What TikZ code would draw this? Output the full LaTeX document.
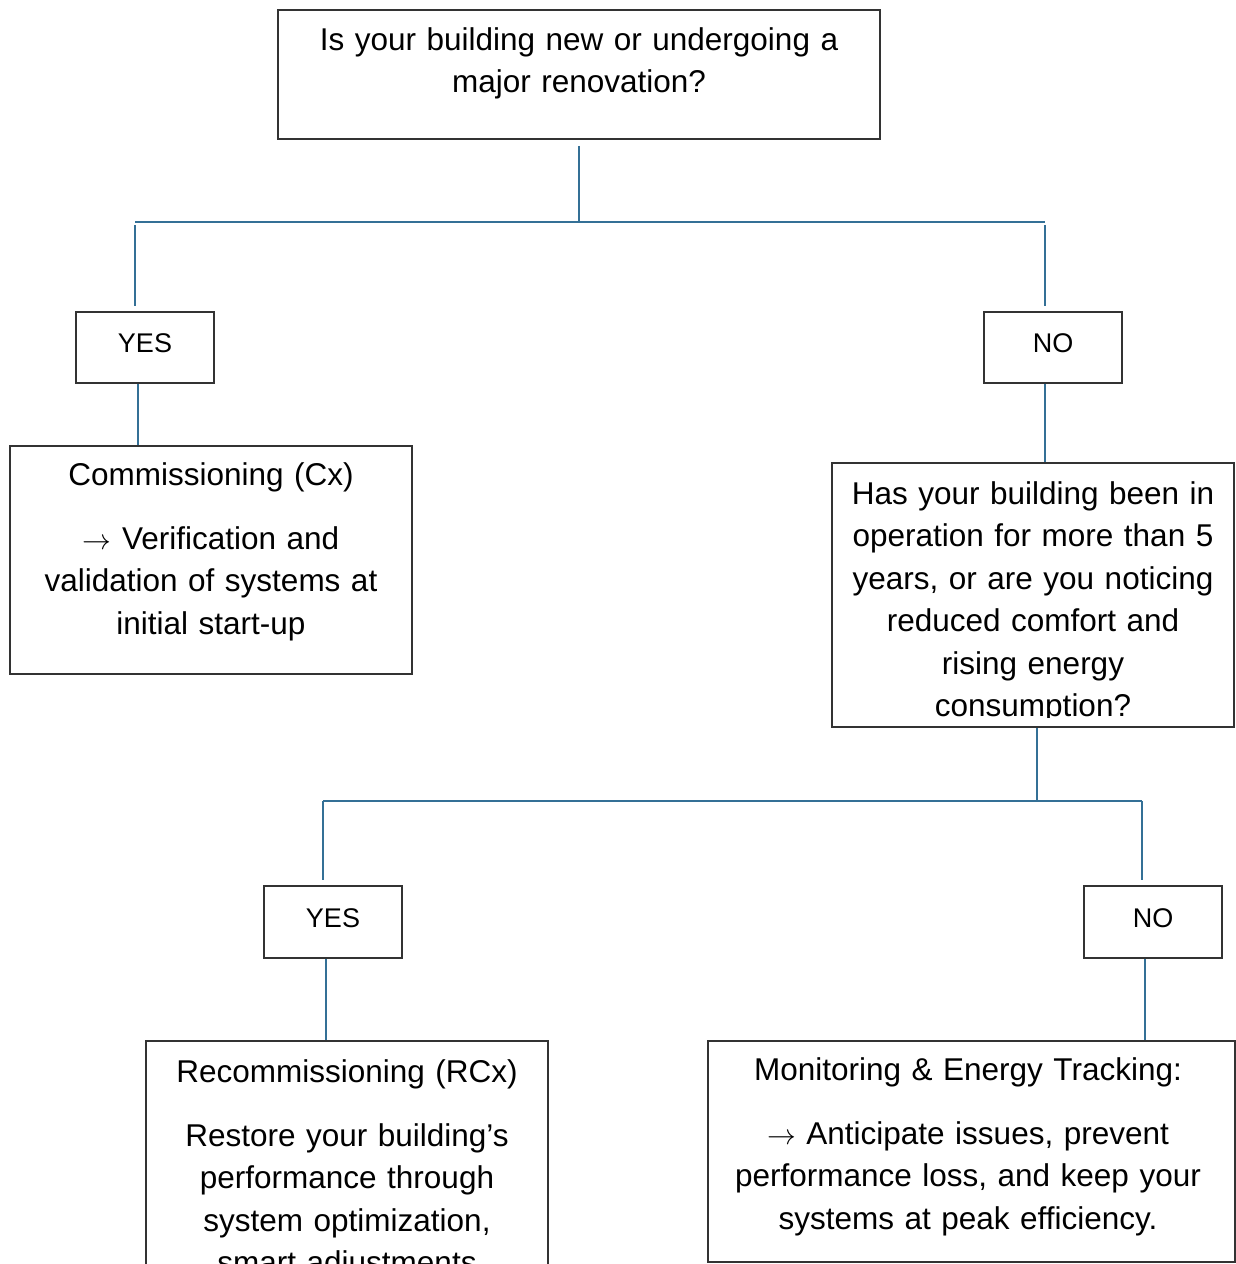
\documentclass[tikz,border=0pt]{standalone}
\usepackage{fontspec}
\setmainfont{Liberation Sans}
\usetikzlibrary{calc}
\usetikzlibrary{positioning}
\definecolor{linkblue}{RGB}{52,112,150}
\definecolor{boxgray}{RGB}{51,51,51}
\tikzstyle{box} = [draw=boxgray, line width=0.75pt, inner sep=0pt]
\tikzstyle{link} = [draw=linkblue, line width=0.7pt]
\tikzstyle{bigtext} = [anchor=base, align=center, inner sep=0pt, font=\fontsize{15.75}{21.25}\selectfont]
\tikzstyle{smalltext} = [anchor=base, align=center, inner sep=0pt, font=\fontsize{13.5}{21.5}\selectfont]
\newcommand{\arr}{\ensuremath{\rightarrow}}

\begin{document}
\begin{tikzpicture}[x=0.5pt,y=-0.5pt]

\clip (0,0) rectangle (1236,1264);

% Boxes
\node[box, minimum width=301pt, minimum height=64.5pt] (q1) at (579,74.5) {};
\node[box, minimum width=69pt, minimum height=35.5pt] (yes1) at (145,347.5) {};
\node[box, minimum width=69pt, minimum height=35.5pt] (no1) at (1053,347.5) {};
\node[box, minimum width=201pt, minimum height=114pt] (cx) at (211,560) {};
\node[box, minimum width=201pt, minimum height=132pt] (q2) at (1033,595) {};
\node[box, minimum width=69pt, minimum height=36pt] (yes2) at (333,922) {};
\node[box, minimum width=69pt, minimum height=36pt] (no2) at (1153,922) {};
\node[box, minimum width=201pt, minimum height=129.5pt] (rcx) at (347,1170.5) {};
\node[box, minimum width=263.5pt, minimum height=110.5pt] (mon) at (971.5,1151.5) {};

% Texts
\node[bigtext, text width=290pt] (q1txt) at (579,50) {Is your building new or undergoing a\\major renovation?};
\node[smalltext, text width=60pt] (yes1txt) at (145,352) {YES};
\node[smalltext, text width=60pt] (no1txt) at (1053,352) {NO};
\node[bigtext, text width=190pt] (cxtxt) at (211,485) {Commissioning (Cx)\\[10.75pt]\arr{} Verification and\\validation of systems at\\initial start-up};
\begin{scope}
\clip (832,463) rectangle (1234,717);
\node[bigtext, text width=195pt] (q2txt) at (1033,504) {Has your building been in\\operation for more than 5\\years, or are you noticing\\reduced comfort and\\rising energy\\consumption?};
\end{scope}
\node[smalltext, text width=60pt] (yes2txt) at (333,927) {YES};
\node[smalltext, text width=60pt] (no2txt) at (1153,927) {NO};
\node[bigtext, text width=190pt] (rcxtxt) at (347,1082) {Recommissioning (RCx)\\[10.75pt]Restore your building’s\\performance through\\system optimization,\\smart adjustments};
\node[bigtext, text width=250pt] (montxt) at (968,1080) {Monitoring \& Energy Tracking:\\[10.75pt]\arr{} Anticipate issues, prevent\\performance loss, and keep your\\systems at peak efficiency.};

% Edges
\coordinate (j1) at (579,222);
\coordinate (b1l) at (135,222);
\coordinate (b1r) at (1045,222);
\draw[link, shorten <=3pt] (q1) -- (j1);
\draw[link] (b1l) -- (b1r);
\draw[link, shorten <=1.5pt, shorten >=2.5pt] (b1l) -- (b1l |- yes1.north);
\draw[link, shorten <=1.5pt, shorten >=2.5pt] (b1r) -- (b1r |- no1.north);

\coordinate (c1) at ([xshift=-3.5pt]yes1.south);
\coordinate (c2) at ([xshift=-4pt]no1.south);
\draw[link] (c1) -- (c1 |- cx.north);
\draw[link] (c2) -- (c2 |- q2.north);

\coordinate (j2) at (1037,801);
\coordinate (b2l) at (323,801);
\coordinate (b2r) at (1142,801);
\draw[link] (j2 |- q2.south) -- (j2);
\draw[link] (b2l) -- (b2r);
\draw[link, shorten >=2.5pt] (b2l) -- (b2l |- yes2.north);
\draw[link, shorten >=2.5pt] (b2r) -- (b2r |- no2.north);

\coordinate (c3) at ([xshift=-3.5pt]yes2.south);
\coordinate (c4) at ([xshift=-4pt]no2.south);
\draw[link] (c3) -- (c3 |- rcx.north);
\draw[link] (c4) -- (c4 |- mon.north);

\end{tikzpicture}
\end{document}
